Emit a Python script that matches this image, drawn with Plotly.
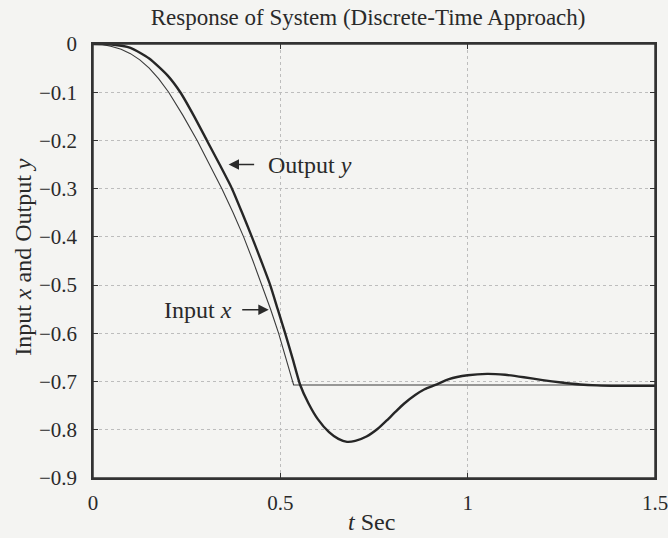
import plotly.graph_objects as go

# Input x (thin line)
t_in = [0, 0.025, 0.05, 0.075, 0.1, 0.125, 0.15, 0.175, 0.202, 0.24, 0.278, 0.31, 0.344,
        0.374, 0.402, 0.427, 0.451, 0.474, 0.4955, 0.516, 0.5355, 1.5]
x_in = [0, -0.001, -0.005, -0.011, -0.02, -0.033, -0.05, -0.072, -0.1, -0.148, -0.2, -0.248,
        -0.3, -0.35, -0.4, -0.45, -0.5, -0.55, -0.6, -0.655, -0.7071, -0.7071]

# Output y (thick line)
t_out = [0, 0.05, 0.1, 0.15, 0.2, 0.233, 0.27, 0.304, 0.338, 0.371, 0.398, 0.424, 0.449,
         0.473, 0.493, 0.513, 0.533, 0.553, 0.575, 0.6, 0.63, 0.655, 0.678, 0.70, 0.73,
         0.76, 0.785, 0.807, 0.83, 0.86, 0.885, 0.914, 0.95, 1.0, 1.052, 1.1, 1.15, 1.2,
         1.25, 1.3, 1.345, 1.4, 1.5]
y_out = [0, -0.001, -0.008, -0.03, -0.066, -0.1, -0.15, -0.2, -0.25, -0.3, -0.35, -0.4, -0.45,
         -0.5, -0.55, -0.6, -0.653, -0.7071, -0.745, -0.778, -0.805, -0.819, -0.825, -0.823, -0.814,
         -0.798, -0.780, -0.763, -0.746, -0.728, -0.716, -0.7071, -0.695, -0.687, -0.684, -0.686, -0.691, -0.697,
         -0.702, -0.706, -0.708, -0.709, -0.709]

x_ticks = [0, 0.5, 1, 1.5]
x_tick_labels = ["0", "0.5", "1", "1.5"]
y_ticks = [0, -0.1, -0.2, -0.3, -0.4, -0.5, -0.6, -0.7, -0.8, -0.9]
y_tick_labels = ["0", "−0.1", "−0.2", "−0.3", "−0.4", "−0.5", "−0.6", "−0.7", "−0.8", "−0.9"]

FONT = "Liberation Serif"
INK = "#2a2a2a"
BG = "#f4f4f2"

fig = go.Figure()
fig.add_trace(go.Scatter(x=t_in, y=x_in, mode="lines", line=dict(color="#3a3a3a", width=1.1),
                         showlegend=False, hoverinfo="skip", cliponaxis=False))
fig.add_trace(go.Scatter(x=t_out, y=y_out, mode="lines", line=dict(color="#262626", width=2.4, shape="spline", smoothing=0.6),
                         showlegend=False, hoverinfo="skip"))

axis_common = dict(
    showline=True, linecolor="#333", linewidth=1.5, mirror="ticks",
    ticks="inside", ticklen=5, tickwidth=1.2, tickcolor="#333",
    showgrid=True, gridcolor="#bdbdbd", griddash="dot", gridwidth=1,
    zeroline=False, automargin=False, ticklabeloverflow="allow",
    tickfont=dict(family=FONT, size=21, color=INK),
)

fig.update_xaxes(range=[0, 1.5], tickvals=x_ticks, ticktext=x_tick_labels,
                 ticklabelstandoff=5, **axis_common)
fig.update_yaxes(range=[-0.9, 0], tickvals=y_ticks, ticktext=y_tick_labels,
                 ticklabelstandoff=10, **axis_common)

# Plot box
fig.add_shape(type="rect", xref="paper", yref="paper", x0=0, y0=0, x1=1, y1=1,
              line=dict(color="#333", width=1.5), layer="above")

# Arrows
fig.add_annotation(x=0.362, y=-0.25, ax=27, ay=0, text="", showarrow=True,
                   arrowhead=2, arrowsize=1.3, arrowwidth=1.6, arrowcolor=INK)
fig.add_annotation(x=0.463, y=-0.25, text="Output <i>y</i>", showarrow=False,
                   xanchor="left", yanchor="middle", font=dict(family=FONT, size=24, color=INK))
fig.add_annotation(x=0.469, y=-0.551, ax=-28, ay=0, text="", showarrow=True,
                   arrowhead=2, arrowsize=1.3, arrowwidth=1.6, arrowcolor=INK)
fig.add_annotation(x=0.377, y=-0.551, text="Input <i>x</i>", showarrow=False,
                   xanchor="right", yanchor="middle", font=dict(family=FONT, size=24, color=INK))

# Axis titles
fig.add_annotation(xref="paper", yref="paper", x=0.496, y=-0.101, text="<i>t</i> Sec",
                   showarrow=False, xanchor="center", yanchor="middle",
                   font=dict(family=FONT, size=24, color=INK))
fig.add_annotation(xref="paper", yref="paper", x=-0.126, y=0.51, text="Input <i>x</i> and Output <i>y</i>",
                   showarrow=False, textangle=-90, xanchor="center", yanchor="middle",
                   font=dict(family=FONT, size=24, color=INK))

fig.update_layout(
    width=668, height=538,
    margin=dict(l=93, r=13, t=44, b=60),
    paper_bgcolor=BG, plot_bgcolor=BG,
    title=dict(text="Response of System (Discrete-Time Approach)", x=0.551, xref="container",
               y=1 - 17 / 538, yref="container", xanchor="center", yanchor="middle",
               font=dict(family=FONT, size=23, color=INK)),
)

fig.write_html("out.html", config={"displayModeBar": False},
               post_script="document.body.style.margin='0';document.body.style.background='%s';" % BG)
